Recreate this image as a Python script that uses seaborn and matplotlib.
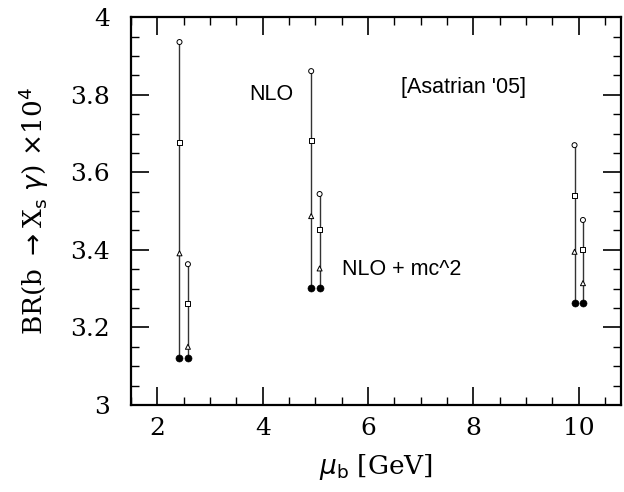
import numpy as np
import pandas as pd
import seaborn as sns
import matplotlib
matplotlib.use("Agg")
import matplotlib.pyplot as plt
from matplotlib.ticker import MultipleLocator

# scale points (GeV), NLO column slightly left, NLO + mc^2 slightly right
nlo_x = [2.42, 4.92, 9.92]
mc2_x = [2.58, 5.08, 10.08]

# BR x 10^4 for the four marker types at each scale
nlo_circle = [3.936, 3.861, 3.670]
nlo_square = [3.678, 3.683, 3.541]
nlo_triangle = [3.391, 3.487, 3.395]
nlo_dot = [3.121, 3.301, 3.262]

mc2_circle = [3.363, 3.544, 3.477]
mc2_square = [3.262, 3.453, 3.402]
mc2_triangle = [3.150, 3.352, 3.314]
mc2_dot = [3.121, 3.301, 3.262]

rows = []
for xs, c, s, t, d in [(nlo_x, nlo_circle, nlo_square, nlo_triangle, nlo_dot),
                       (mc2_x, mc2_circle, mc2_square, mc2_triangle, mc2_dot)]:
    for i in range(3):
        rows.append((xs[i], c[i], "circle"))
        rows.append((xs[i], s[i], "square"))
        rows.append((xs[i], t[i], "triangle"))
        rows.append((xs[i], d[i], "dot"))
df = pd.DataFrame(rows, columns=["mu", "br", "kind"])

sns.set_style("ticks")
plt.rcParams.update({"text.color": "black", "axes.labelcolor": "black",
                     "xtick.color": "black", "ytick.color": "black"})
fig, ax = plt.subplots(figsize=(6.24, 4.92), dpi=100)
fig.subplots_adjust(left=0.21, right=0.995, bottom=0.177, top=0.965)

# vertical lines joining the points
for xs, top, bot in [(nlo_x, nlo_circle, nlo_dot), (mc2_x, mc2_circle, mc2_dot)]:
    ax.vlines(xs, bot, top, color="#333333", lw=1.0, zorder=1)

open_df = df[df.kind != "dot"]
sns.scatterplot(data=open_df, x="mu", y="br", style="kind",
                markers={"circle": "o", "square": "s", "triangle": "^"},
                s=13, facecolor="white", edgecolor="black", linewidth=0.7,
                color="white", legend=False, ax=ax, zorder=3)
sns.scatterplot(data=df[df.kind == "dot"], x="mu", y="br", marker="o",
                s=26, color="black", edgecolor="black", legend=False, ax=ax, zorder=3)

ax.set_xlim(1.5, 10.8)
ax.set_ylim(3.0, 4.0)
ax.xaxis.set_major_locator(MultipleLocator(2))
ax.xaxis.set_minor_locator(MultipleLocator(0.5))
ax.yaxis.set_major_locator(MultipleLocator(0.2))
ax.yaxis.set_minor_locator(MultipleLocator(0.05))
ax.set_yticks([3, 3.2, 3.4, 3.6, 3.8, 4])
ax.set_yticklabels(["3", "3.2", "3.4", "3.6", "3.8", "4"])

ax.tick_params(which="both", direction="in", top=True, right=True, color="black")
ax.tick_params(which="major", length=13, width=1.2, labelsize=18)
ax.tick_params(axis="x", which="major", pad=9)
ax.tick_params(axis="y", which="major", pad=15)
ax.tick_params(which="minor", length=6, width=1.0)
for lab in ax.get_xticklabels() + ax.get_yticklabels():
    lab.set_family("DejaVu Serif")
for sp in ax.spines.values():
    sp.set_linewidth(1.6)
    sp.set_color("black")

ax.set_xlabel(r"$\mu_{\rm b}$ [GeV]", fontsize=19, family="DejaVu Serif", labelpad=8)
ax.set_ylabel(r"BR(b $\rightarrow$X$_{\rm s}$ $\gamma$) $\times$10$^4$",
              fontsize=19, family="DejaVu Serif", labelpad=14)

ax.text(4.17, 3.80, "NLO", fontsize=15.5, ha="center", va="center", family="Liberation Sans")
ax.text(7.81, 3.82, "[Asatrian '05]", fontsize=15.5, ha="center", va="center", family="Liberation Sans")
ax.text(5.5, 3.35, "NLO + mc^2", fontsize=15.5, ha="left", va="center", family="Liberation Sans")

fig.savefig("out.png", dpi=100)
